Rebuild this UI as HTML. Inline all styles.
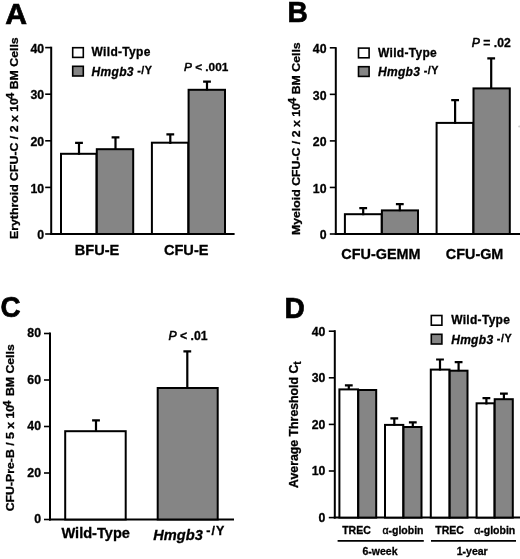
<!DOCTYPE html>
<html><head><meta charset="utf-8"><title>Figure</title>
<style>
html,body{margin:0;padding:0;background:#fff;}
svg{display:block;}
text{font-family:"Liberation Sans",sans-serif;font-weight:bold;fill:#000;stroke:#000;stroke-width:0.3px;}
.pl{font-size:30.2px;stroke-width:0.7px;}
.tk{font-size:12.3px;}
.lg{font-size:12px;letter-spacing:0.3px;}
.pv{font-size:11.8px;}
.xl{font-size:14.6px;}
.dl{font-size:10.5px;}
</style></head><body>
<svg width="520" height="559" viewBox="0 0 520 559">
<rect width="520" height="559" fill="#fff"/>
<text x="5.30" y="24.30" text-anchor="start" class="pl" >A</text>
<path d="M51.20 46.70V235.00" stroke="#000" stroke-width="2" fill="none"/>
<path d="M50.20 234.00H234.60" stroke="#000" stroke-width="2" fill="none"/>
<path d="M45.20 234.00H51.20" stroke="#000" stroke-width="1.6" fill="none"/>
<text x="44.20" y="239.20" text-anchor="end" class="tk">0</text>
<path d="M45.20 187.40H51.20" stroke="#000" stroke-width="1.6" fill="none"/>
<text x="44.20" y="192.60" text-anchor="end" class="tk">10</text>
<path d="M45.20 140.80H51.20" stroke="#000" stroke-width="1.6" fill="none"/>
<text x="44.20" y="146.00" text-anchor="end" class="tk">20</text>
<path d="M45.20 94.20H51.20" stroke="#000" stroke-width="1.6" fill="none"/>
<text x="44.20" y="99.40" text-anchor="end" class="tk">30</text>
<path d="M45.20 47.60H51.20" stroke="#000" stroke-width="1.6" fill="none"/>
<text x="44.20" y="52.80" text-anchor="end" class="tk">40</text>
<rect x="61.00" y="153.80" width="35.50" height="80.20" fill="#fff" stroke="#000" stroke-width="2"/>
<rect x="96.80" y="149.20" width="36.40" height="84.80" fill="#858585" stroke="#000" stroke-width="2"/>
<rect x="151.90" y="142.70" width="36.40" height="91.30" fill="#fff" stroke="#000" stroke-width="2"/>
<rect x="188.60" y="89.80" width="36.40" height="144.20" fill="#858585" stroke="#000" stroke-width="2"/>
<path d="M75.10 142.90H82.90M79.00 142.90V154.80" stroke="#000" stroke-width="2.2" fill="none"/>
<path d="M111.60 137.40H119.40M115.50 137.40V150.00" stroke="#000" stroke-width="2.2" fill="none"/>
<path d="M166.40 134.40H174.20M170.30 134.40V144.00" stroke="#000" stroke-width="2.2" fill="none"/>
<path d="M203.10 81.70H210.90M207.00 81.70V90.60" stroke="#000" stroke-width="2.2" fill="none"/>
<rect x="72.70" y="47.70" width="10.60" height="9.70" fill="#fff" stroke="#000" stroke-width="1.6"/>
<rect x="72.70" y="66.30" width="10.60" height="9.70" fill="#858585" stroke="#000" stroke-width="1.6"/>
<text x="91.60" y="56.30" text-anchor="start" class="lg" >Wild-Type</text>
<text x="91.60" y="76.40" text-anchor="start" class="lg" ><tspan font-style="italic">Hmgb3</tspan><tspan dx="3.5" dy="-2" font-size="10.8" letter-spacing="0.5">-/Y</tspan></text>
<text x="184.00" y="71.20" text-anchor="start" class="pv" ><tspan font-style="italic" font-weight="normal" stroke-width="0.55">P</tspan> &lt; .001</text>
<text x="97.00" y="255.30" text-anchor="middle" class="xl" >BFU-E</text>
<text x="186.20" y="255.30" text-anchor="middle" class="xl" >CFU-E</text>
<text transform="translate(17.70 239.00) rotate(-90) scale(1.08 1)" class="yl" font-size="11.4" >Erythroid CFU-C / 2 x 10<tspan dy="-4.2" dx="-1" font-size="10.8">4</tspan><tspan dy="4.2" dx="0"> BM Cells</tspan></text>
<text transform="translate(287.50 21.90) scale(0.93 1)" text-anchor="start" class="pl" >B</text>
<path d="M335.80 47.20V235.00" stroke="#000" stroke-width="2" fill="none"/>
<path d="M334.80 234.00H520.00" stroke="#000" stroke-width="2" fill="none"/>
<path d="M329.80 234.00H335.80" stroke="#000" stroke-width="1.6" fill="none"/>
<text x="326.50" y="239.20" text-anchor="end" class="tk">0</text>
<path d="M329.80 187.45H335.80" stroke="#000" stroke-width="1.6" fill="none"/>
<text x="326.50" y="192.65" text-anchor="end" class="tk">10</text>
<path d="M329.80 140.90H335.80" stroke="#000" stroke-width="1.6" fill="none"/>
<text x="326.50" y="146.10" text-anchor="end" class="tk">20</text>
<path d="M329.80 94.35H335.80" stroke="#000" stroke-width="1.6" fill="none"/>
<text x="326.50" y="99.55" text-anchor="end" class="tk">30</text>
<path d="M329.80 47.80H335.80" stroke="#000" stroke-width="1.6" fill="none"/>
<text x="326.50" y="53.00" text-anchor="end" class="tk">40</text>
<rect x="344.90" y="214.20" width="36.80" height="19.80" fill="#fff" stroke="#000" stroke-width="2"/>
<rect x="381.90" y="210.40" width="36.10" height="23.60" fill="#858585" stroke="#000" stroke-width="2"/>
<rect x="436.60" y="122.90" width="36.70" height="111.10" fill="#fff" stroke="#000" stroke-width="2"/>
<rect x="473.50" y="88.40" width="36.30" height="145.60" fill="#858585" stroke="#000" stroke-width="2"/>
<path d="M359.30 208.20H367.10M363.20 208.20V215.20" stroke="#000" stroke-width="2.2" fill="none"/>
<path d="M395.90 204.10H403.70M399.80 204.10V211.20" stroke="#000" stroke-width="2.2" fill="none"/>
<path d="M451.20 100.20H459.00M455.10 100.20V123.90" stroke="#000" stroke-width="2.2" fill="none"/>
<path d="M487.30 58.40H495.10M491.20 58.40V88.90" stroke="#000" stroke-width="2.2" fill="none"/>
<rect x="358.50" y="48.10" width="10.60" height="9.70" fill="#fff" stroke="#000" stroke-width="1.6"/>
<rect x="358.50" y="66.70" width="10.60" height="9.70" fill="#858585" stroke="#000" stroke-width="1.6"/>
<text x="378.00" y="57.10" text-anchor="start" class="lg" >Wild-Type</text>
<text x="378.00" y="76.40" text-anchor="start" class="lg" ><tspan font-style="italic">Hmgb3</tspan><tspan dx="3.5" dy="-2" font-size="10.8" letter-spacing="0.5">-/Y</tspan></text>
<text x="471.80" y="46.80" text-anchor="start" class="pv" style="font-size:12.2px"><tspan font-style="italic" font-weight="normal" stroke-width="0.55">P</tspan> = .02</text>
<text x="380.90" y="258.80" text-anchor="middle" class="xl" style="font-size:14.4px">CFU-GEMM</text>
<text x="474.60" y="258.80" text-anchor="middle" class="xl" style="font-size:14.4px">CFU-GM</text>
<text transform="translate(300.10 235.10) rotate(-90) scale(1.08 1)" class="yl" font-size="11.4" >Myeloid CFU-C / 2 x 10<tspan dy="-4.2" dx="-1" font-size="10.8">4</tspan><tspan dy="4.2" dx="0"> BM Cells</tspan></text>
<ellipse cx="519.4" cy="126.4" rx="1.3" ry="1" fill="#d0d0d0"/>
<text transform="translate(0.40 317.30) scale(0.92 1)" text-anchor="start" class="pl" >C</text>
<path d="M50.00 332.40V520.50" stroke="#000" stroke-width="2" fill="none"/>
<path d="M49.00 519.50H234.00" stroke="#000" stroke-width="2" fill="none"/>
<path d="M44.00 519.50H50.00" stroke="#000" stroke-width="1.6" fill="none"/>
<text x="41.00" y="523.40" text-anchor="end" class="tk">0</text>
<path d="M44.00 473.00H50.00" stroke="#000" stroke-width="1.6" fill="none"/>
<text x="41.00" y="476.90" text-anchor="end" class="tk">20</text>
<path d="M44.00 426.50H50.00" stroke="#000" stroke-width="1.6" fill="none"/>
<text x="41.00" y="430.40" text-anchor="end" class="tk">40</text>
<path d="M44.00 380.00H50.00" stroke="#000" stroke-width="1.6" fill="none"/>
<text x="41.00" y="383.90" text-anchor="end" class="tk">60</text>
<path d="M44.00 333.50H50.00" stroke="#000" stroke-width="1.6" fill="none"/>
<text x="41.00" y="337.40" text-anchor="end" class="tk">80</text>
<rect x="65.20" y="431.20" width="60.50" height="88.30" fill="#fff" stroke="#000" stroke-width="2"/>
<rect x="157.70" y="388.00" width="60.00" height="131.50" fill="#858585" stroke="#000" stroke-width="2"/>
<path d="M92.10 420.40H99.90M96.00 420.40V432.00" stroke="#000" stroke-width="2.2" fill="none"/>
<path d="M183.40 351.40H191.20M187.30 351.40V388.80" stroke="#000" stroke-width="2.2" fill="none"/>
<text x="168.60" y="339.90" text-anchor="start" class="pv" style="font-size:12.2px"><tspan font-style="italic" font-weight="normal" stroke-width="0.55">P</tspan> &lt; .01</text>
<text x="95.70" y="538.00" text-anchor="middle" class="xl" style="font-size:14.6px">Wild-Type</text>
<text x="153.30" y="539.70" text-anchor="start" class="xl" ><tspan font-style="italic">Hmgb3</tspan><tspan dx="3.6" dy="-4.3" font-size="12.5" letter-spacing="1">-/Y</tspan></text>
<text transform="translate(13.90 511.30) rotate(-90) scale(1.16 1)" class="yl2" font-size="10.6" >CFU-Pre-B / 5 x 10<tspan dy="-3.3" dx="-1.8" font-size="10">4</tspan><tspan dy="3.3" dx="0.8"> BM Cells</tspan></text>
<text transform="translate(284.60 317.90) scale(0.93 1)" text-anchor="start" class="pl" >D</text>
<path d="M334.80 330.20V518.60" stroke="#000" stroke-width="2" fill="none"/>
<path d="M333.80 517.60H520.00" stroke="#000" stroke-width="2" fill="none"/>
<path d="M328.80 517.60H334.80" stroke="#000" stroke-width="1.6" fill="none"/>
<text x="325.40" y="521.90" text-anchor="end" class="tk">0</text>
<path d="M328.80 471.00H334.80" stroke="#000" stroke-width="1.6" fill="none"/>
<text x="325.40" y="475.30" text-anchor="end" class="tk">10</text>
<path d="M328.80 424.40H334.80" stroke="#000" stroke-width="1.6" fill="none"/>
<text x="325.40" y="428.70" text-anchor="end" class="tk">20</text>
<path d="M328.80 377.80H334.80" stroke="#000" stroke-width="1.6" fill="none"/>
<text x="325.40" y="382.10" text-anchor="end" class="tk">30</text>
<path d="M328.80 331.20H334.80" stroke="#000" stroke-width="1.6" fill="none"/>
<text x="325.40" y="335.50" text-anchor="end" class="tk">40</text>
<rect x="339.40" y="389.40" width="18.70" height="128.20" fill="#fff" stroke="#000" stroke-width="2"/>
<rect x="358.30" y="390.00" width="17.90" height="127.60" fill="#858585" stroke="#000" stroke-width="2"/>
<rect x="385.00" y="424.90" width="18.30" height="92.70" fill="#fff" stroke="#000" stroke-width="2"/>
<rect x="403.50" y="427.00" width="18.00" height="90.60" fill="#858585" stroke="#000" stroke-width="2"/>
<rect x="430.80" y="369.60" width="18.70" height="148.00" fill="#fff" stroke="#000" stroke-width="2"/>
<rect x="449.70" y="370.70" width="17.80" height="146.90" fill="#858585" stroke="#000" stroke-width="2"/>
<rect x="476.60" y="403.30" width="17.90" height="114.30" fill="#fff" stroke="#000" stroke-width="2"/>
<rect x="494.70" y="399.20" width="18.10" height="118.40" fill="#858585" stroke="#000" stroke-width="2"/>
<path d="M344.90 385.40H352.70M348.80 385.40V389.80" stroke="#000" stroke-width="2.2" fill="none"/>
<path d="M390.40 418.30H398.20M394.30 418.30V425.70" stroke="#000" stroke-width="2.2" fill="none"/>
<path d="M408.90 422.40H416.70M412.80 422.40V427.80" stroke="#000" stroke-width="2.2" fill="none"/>
<path d="M436.10 359.50H443.90M440.00 359.50V370.40" stroke="#000" stroke-width="2.2" fill="none"/>
<path d="M454.70 362.20H462.50M458.60 362.20V371.20" stroke="#000" stroke-width="2.2" fill="none"/>
<path d="M482.50 398.20H490.30M486.40 398.20V404.60" stroke="#000" stroke-width="2.2" fill="none"/>
<path d="M500.00 393.70H507.80M503.90 393.70V399.50" stroke="#000" stroke-width="2.2" fill="none"/>
<rect x="431.30" y="315.50" width="10.60" height="9.70" fill="#fff" stroke="#000" stroke-width="1.6"/>
<rect x="431.30" y="334.30" width="10.60" height="9.70" fill="#858585" stroke="#000" stroke-width="1.6"/>
<text x="451.20" y="323.80" text-anchor="start" class="lg" >Wild-Type</text>
<text x="451.20" y="343.80" text-anchor="start" class="lg" ><tspan font-style="italic">Hmgb3</tspan><tspan dx="3.5" dy="-2" font-size="10.8" letter-spacing="0.5">-/Y</tspan></text>
<text x="356.50" y="533.60" text-anchor="middle" class="dl" >TREC</text>
<text x="403.00" y="533.60" text-anchor="middle" class="dl" ><tspan font-weight="normal" stroke-width="0.45">α</tspan>-globin</text>
<text x="449.60" y="533.60" text-anchor="middle" class="dl" >TREC</text>
<text x="494.70" y="533.60" text-anchor="middle" class="dl" ><tspan font-weight="normal" stroke-width="0.45">α</tspan>-globin</text>
<path d="M337.6 540.9H423.8M431 540.9H516" stroke="#000" stroke-width="1.7" fill="none"/>
<text x="380.00" y="555.00" text-anchor="middle" class="dl" >6-week</text>
<text x="472.20" y="555.00" text-anchor="middle" class="dl" >1-year</text>
<text transform="translate(298.20 487.90) rotate(-90) scale(1.0 1)" class="yl3" font-size="12.3" >Average Threshold C<tspan dy="2.5" font-size="10">t</tspan></text>
</svg>
</body></html>
